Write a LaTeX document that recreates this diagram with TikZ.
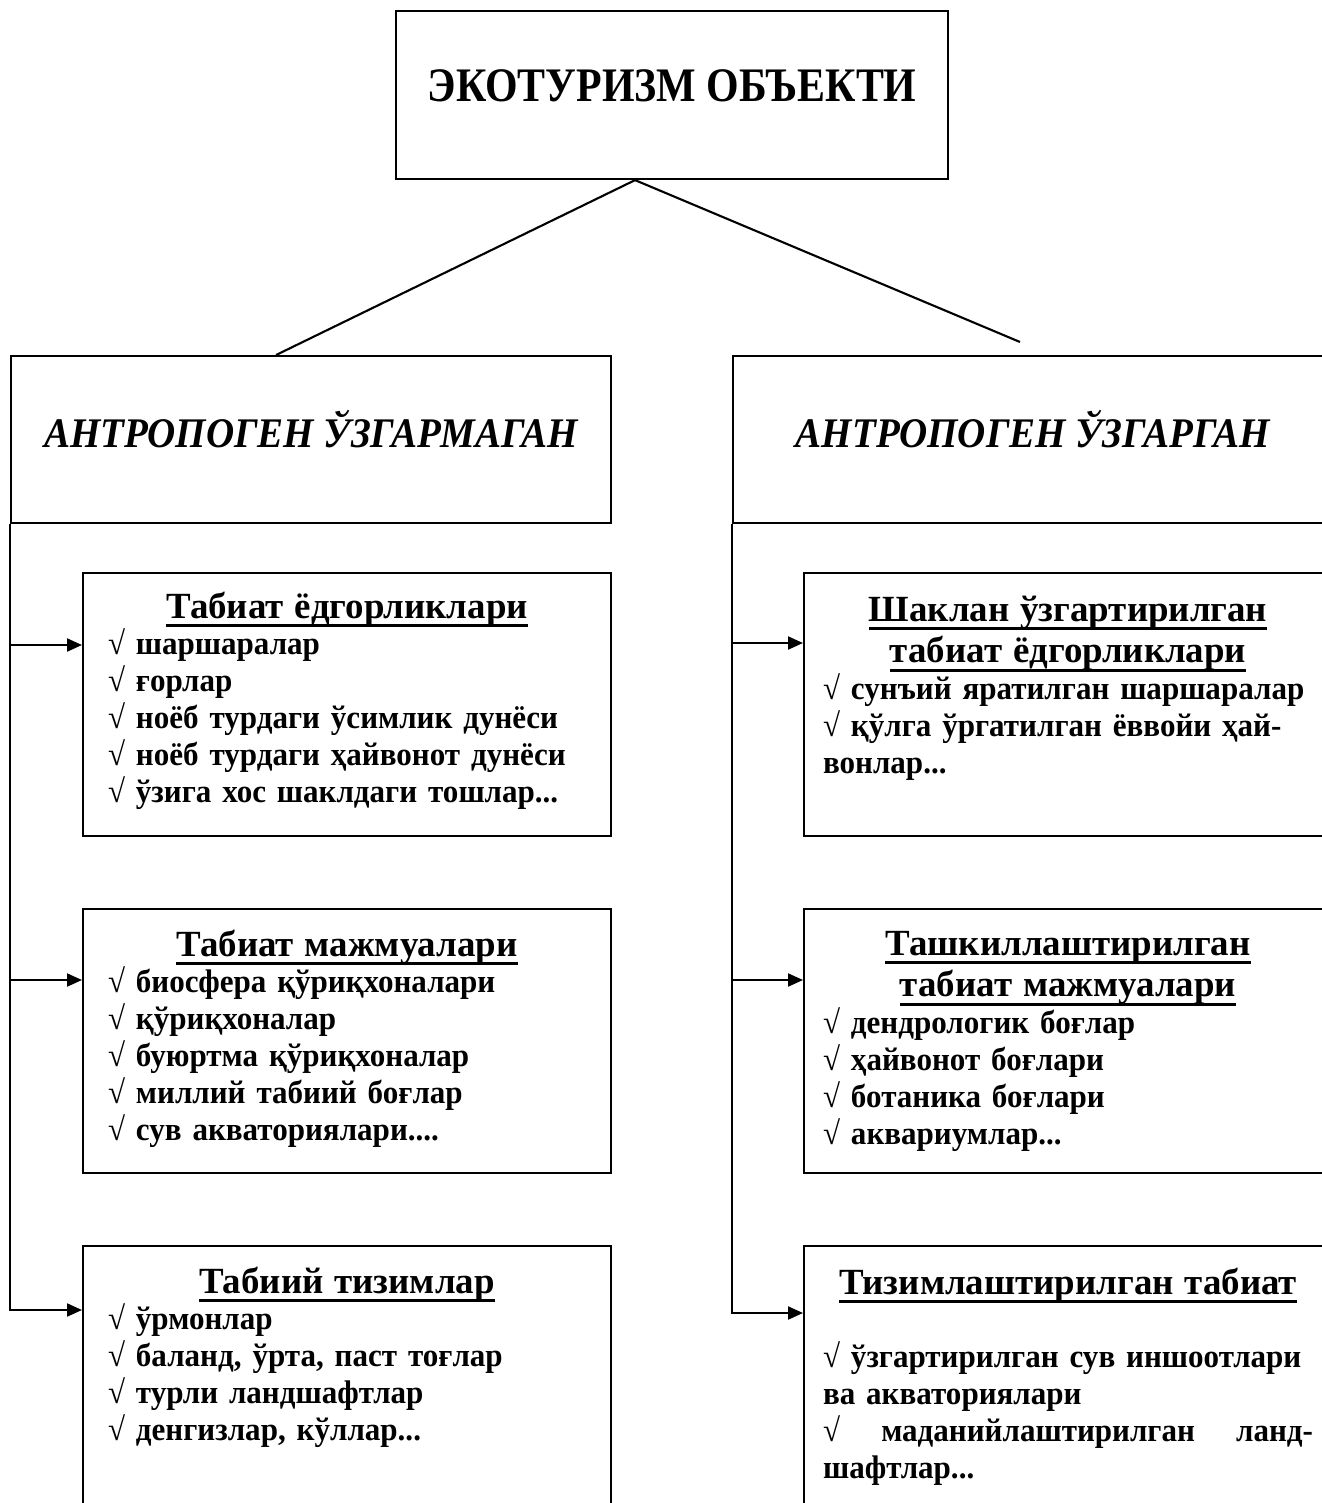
\documentclass[tikz,border=0pt]{standalone}
\usepackage{fontspec}
\setmainfont{Liberation Serif}[FakeStretch=0.95]
\newfontfamily\titlefont{Liberation Serif}[FakeStretch=0.87]
\newfontfamily\groupfont{Liberation Serif}[FakeStretch=0.925]
\newfontfamily\headfont{Liberation Serif}
\usetikzlibrary{arrows.meta,positioning}

% underlined box headings
\newcommand\ulhead[1]{\setbox0\hbox{#1}\rlap{\rule[-2.5pt]{\wd0}{0.85pt}}\box0}
\newcommand\boxhead[1]{\makebox[\linewidth]{\headfont\fontsize{10.5pt}{10.5pt}\selectfont\ulhead{#1}}}

\begin{document}
\begin{tikzpicture}[
    frame/.style={rectangle, draw, semithick, inner sep=0pt, anchor=north west},
    group/.style={frame, minimum width=6cm, text height=0.91cm, text depth=0.76cm, font=\groupfont\bfseries\itshape\fontsize{12pt}{14pt}\selectfont},
    listl/.style={frame, align=left, text width=4.78cm, inner xsep=0.25cm, font=\bfseries\fontsize{9.3pt}{10.5pt}\selectfont},
    listr/.style={frame, align=left, text width=4.90cm, inner xsep=0.19cm, font=\bfseries\fontsize{9.3pt}{10.5pt}\selectfont},
    arr/.style={semithick, -{Triangle[length=0.15cm,width=0.13cm]}}
]
    \useasboundingbox (0,0) rectangle (13.22,-15.03);

    \node[frame, minimum width=5.52cm, text height=0.90cm, text depth=0.78cm, font=\titlefont\bfseries\fontsize{13.7pt}{16pt}\selectfont] (obj) at (3.95,-0.10) {ЭКОТУРИЗМ ОБЪЕКТИ};

    \node[group] (unch) at (0.10,-3.55) {АНТРОПОГЕН ЎЗГАРМАГАН};
    \node[group] (chg) at (7.32,-3.55) {АНТРОПОГЕН ЎЗГАРГАН};

    \node[listl, text height=0.45cm, text depth=2.18cm] (l1) at (0.82,-5.72) {\boxhead{Табиат ёдгорликлари}\\
        √ шаршаралар\\
        √ ғорлар\\
        √ ноёб турдаги ўсимлик дунёси\\
        √ ноёб турдаги ҳайвонот дунёси\\
        √ ўзига хос шаклдаги тошлар...};
    \node[listl, text height=0.47cm, text depth=2.17cm] (l2) at (0.82,-9.08) {\boxhead{Табиат мажмуалари}\\
        √ биосфера қўриқхоналари\\
        √ қўриқхоналар\\
        √ буюртма қўриқхоналар\\
        √ миллий табиий боғлар\\
        √ сув акваториялари....};
    \node[listl, text height=0.47cm, text depth=2.20cm] (l3) at (0.82,-12.45) {\boxhead{Табиий тизимлар}\\
        √ ўрмонлар\\
        √ баланд, ўрта, паст тоғлар\\
        √ турли ландшафтлар\\
        √ денгизлар, кўллар...};

    \node[listr, text height=0.48cm, text depth=2.15cm] (r1) at (8.03,-5.72) {\boxhead{Шаклан ўзгартирилган}\\[0.05cm]
        \boxhead{табиат ёдгорликлари}\\
        √ сунъий яратилган шаршаралар\\
        √ қўлга ўргатилган ёввойи ҳай-\\
        вонлар...};
    \node[listr, text height=0.46cm, text depth=2.18cm] (r2) at (8.03,-9.08) {\boxhead{Ташкиллаштирилган}\\[0.05cm]
        \boxhead{табиат мажмуалари}\\
        √ дендрологик боғлар\\
        √ ҳайвонот боғлари\\
        √ ботаника боғлари\\
        √ аквариумлар...};
    \node[listr, text height=0.48cm, text depth=2.20cm] (r3) at (8.03,-12.45) {\boxhead{Тизимлаштирилган табиат}\\[10.5pt]
        √ ўзгартирилган сув иншоотлари\\
        ва акваториялари\\
        \makebox[\linewidth][s]{√\hfill маданийлаштирилган\hfill ланд-}\\
        шафтлар...};

    \coordinate (apex) at ([xshift=-0.37cm]obj.south);
    \coordinate (chgend) at (10.20,-3.42);
    \coordinate (l1in) at ([yshift=-0.73cm]l1.north west);
    \coordinate (l2in) at ([yshift=-0.72cm]l2.north west);
    \coordinate (l3in) at ([yshift=-0.65cm]l3.north west);
    \coordinate (r1in) at ([yshift=-0.71cm]r1.north west);
    \coordinate (r2in) at ([yshift=-0.72cm]r2.north west);
    \coordinate (r3in) at ([yshift=-0.68cm]r3.north west);

    \draw[semithick] (apex) -- ([xshift=-0.35cm]unch.north);
    \draw[semithick] (apex) -- (chgend);

    \draw[arr] (unch.south west) |- (l3in);
    \draw[arr] (unch.south west |- l1in) -- (l1in);
    \draw[arr] (unch.south west |- l2in) -- (l2in);
    \draw[arr] (chg.south west) |- (r3in);
    \draw[arr] (chg.south west |- r1in) -- (r1in);
    \draw[arr] (chg.south west |- r2in) -- (r2in);
\end{tikzpicture}
\end{document}
